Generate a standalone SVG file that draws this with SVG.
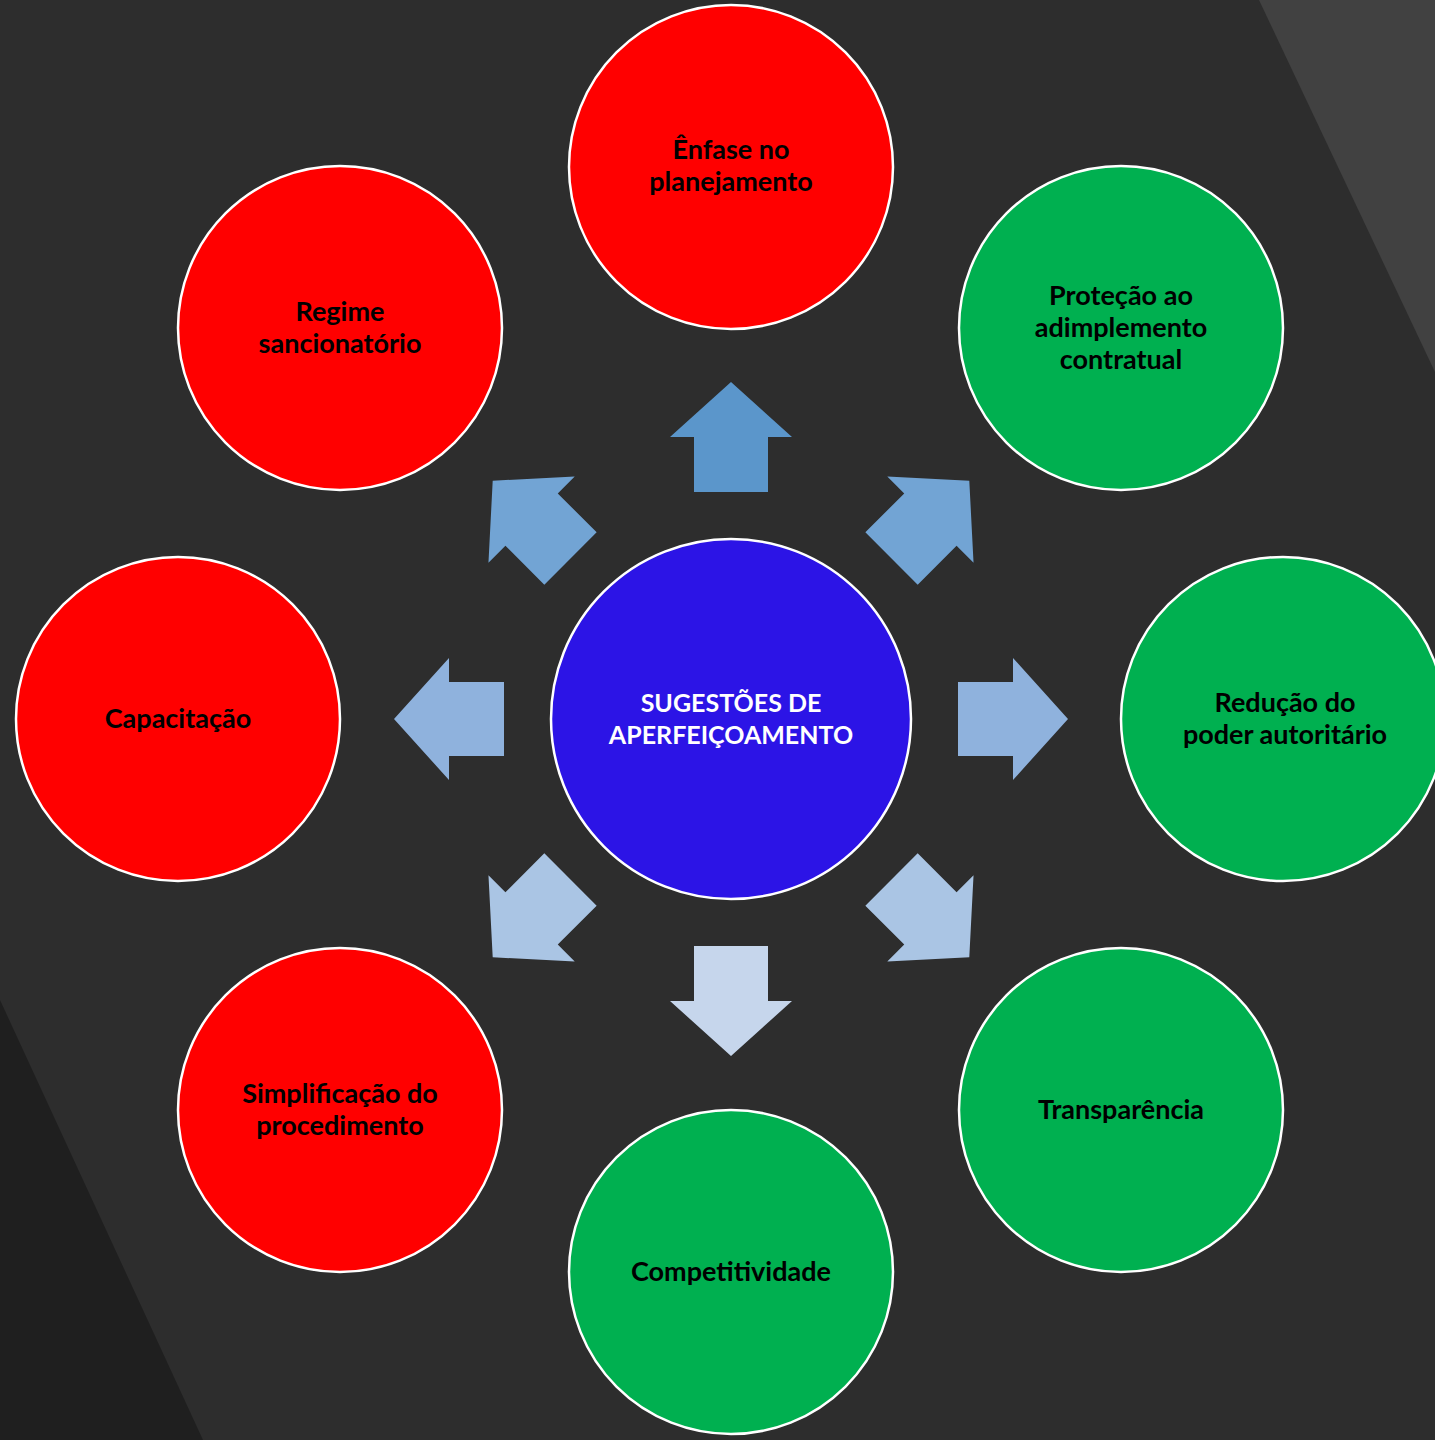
<svg xmlns="http://www.w3.org/2000/svg" width="1435" height="1440" viewBox="0 0 1435 1440">
<defs>
<style>
.node{stroke:#ffffff;stroke-width:2.5}
.red{fill:#ff0000}
.green{fill:#00b050}
.center{fill:#2c14e6}
.lbl{font-family:Lato,"Open Sans","Liberation Sans",sans-serif;font-weight:bold;font-size:27px;text-anchor:middle;fill:#000000}
.lblw{fill:#ffffff;font-size:25px}
</style>
<polygon id="arr" points="0,-337 61,-282 37,-282 37,-227 -37,-227 -37,-282 -61,-282"/>
</defs>
<rect width="1435" height="1440" fill="#2d2d2d"/>
<polygon points="1259,0 1435,0 1435,372" fill="#414141"/>
<polygon points="0,1000 203,1440 0,1440" fill="#1f1f1f"/>
<g id="connectors" transform="translate(731,719)">
<use href="#arr" fill="#5b96cb"/>
<use href="#arr" fill="#72a4d4" transform="rotate(45)"/>
<use href="#arr" fill="#72a4d4" transform="rotate(-45)"/>
<use href="#arr" fill="#8fb2dd" transform="rotate(90)"/>
<use href="#arr" fill="#8fb2dd" transform="rotate(-90)"/>
<use href="#arr" fill="#aac5e4" transform="rotate(135)"/>
<use href="#arr" fill="#aac5e4" transform="rotate(-135)"/>
<use href="#arr" fill="#c6d6ec" transform="rotate(180)"/>
</g>
<g id="center">
<circle class="node center" cx="731" cy="719" r="180"/>
<text class="lbl lblw" x="731" y="712">SUGESTÕES DE</text>
<text class="lbl lblw" x="731" y="744">APERFEIÇOAMENTO</text>
</g>
<g id="n-enfase">
<circle class="node red" cx="731" cy="167" r="162"/>
<text class="lbl" x="731" y="159">Ênfase no</text>
<text class="lbl" x="731" y="191">planejamento</text>
</g>
<g id="n-protecao">
<circle class="node green" cx="1121" cy="328" r="162"/>
<text class="lbl" x="1121" y="305">Proteção ao</text>
<text class="lbl" x="1121" y="337">adimplemento</text>
<text class="lbl" x="1121" y="369">contratual</text>
</g>
<g id="n-reducao">
<circle class="node green" cx="1283" cy="719" r="162"/>
<text class="lbl" x="1285" y="712">Redução do</text>
<text class="lbl" x="1285" y="744">poder autoritário</text>
</g>
<g id="n-transparencia">
<circle class="node green" cx="1121" cy="1110" r="162"/>
<text class="lbl" x="1121" y="1119">Transparência</text>
</g>
<g id="n-competitividade">
<circle class="node green" cx="731" cy="1272" r="162"/>
<text class="lbl" x="731" y="1281">Competitividade</text>
</g>
<g id="n-simplificacao">
<circle class="node red" cx="340" cy="1110" r="162"/>
<text class="lbl" x="340" y="1103">Simplificação do</text>
<text class="lbl" x="340" y="1135">procedimento</text>
</g>
<g id="n-capacitacao">
<circle class="node red" cx="178" cy="719" r="162"/>
<text class="lbl" x="178" y="728">Capacitação</text>
</g>
<g id="n-regime">
<circle class="node red" cx="340" cy="328" r="162"/>
<text class="lbl" x="340" y="321">Regime</text>
<text class="lbl" x="340" y="353">sancionatório</text>
</g>
</svg>
